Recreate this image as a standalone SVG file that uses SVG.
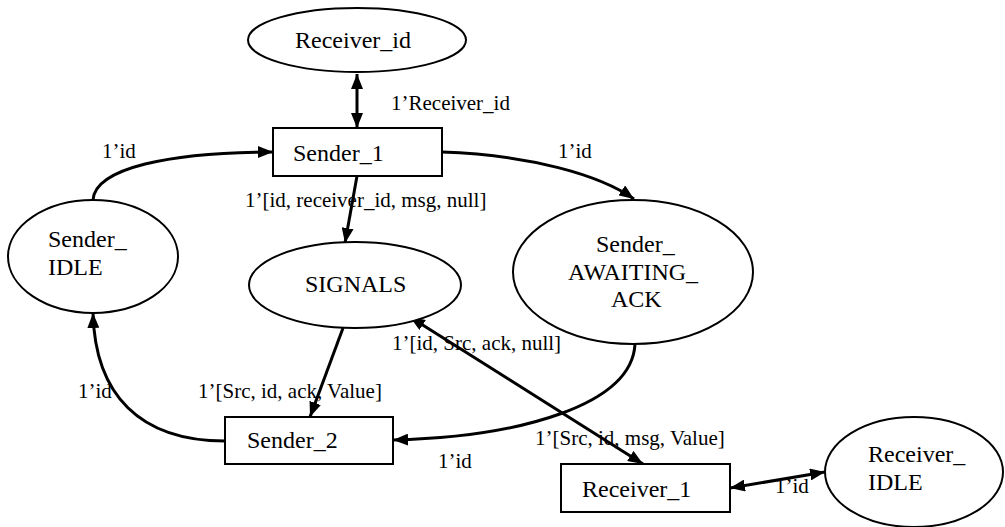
<svg xmlns="http://www.w3.org/2000/svg" width="1005" height="527" viewBox="0 0 1005 527">
  <defs>
    <marker id="arrow" viewBox="0 0 15 12" refX="15" refY="6" markerWidth="15" markerHeight="12" markerUnits="userSpaceOnUse" orient="auto-start-reverse">
      <path d="M0,0 L15,6 L0,12 z" fill="#000"/>
    </marker>
    <style>
      .place { fill: #fff; stroke: #000; stroke-width: 2; }
      .trans { fill: #fff; stroke: #000; stroke-width: 2; }
      .name { font-size: 24px; fill: #000; }
      .lbl { font-size: 21px; fill: #000; }
      .arc { fill: none; stroke: #000; stroke-width: 3; }
    </style>
  </defs>
  <rect width="1005" height="527" fill="#fff"/>

  <g font-family="'Liberation Serif', 'DejaVu Serif', serif">
  <!-- arcs between places and transitions, with their inscriptions -->
  <g id="connectors">
    <path class="arc" d="M357,74 L357,128" marker-start="url(#arrow)" marker-end="url(#arrow)"/>
    <path class="arc" d="M93,200 C95,168 170,152 273,152" marker-end="url(#arrow)"/>
    <path class="arc" d="M442,152 C530,155 600,175 634,199" marker-end="url(#arrow)"/>
    <path class="arc" d="M357,176 L345,243" marker-end="url(#arrow)"/>
    <path class="arc" d="M343,328 L310,417" marker-end="url(#arrow)"/>
    <path class="arc" d="M635,344 C632,405 520,437 393,440" marker-end="url(#arrow)"/>
    <path class="arc" d="M225,441 C140,441 95,395 93,313" marker-end="url(#arrow)"/>
    <path class="arc" d="M410,317 L643,464" marker-start="url(#arrow)" marker-end="url(#arrow)"/>
    <path class="arc" d="M730,488 L825,472" marker-start="url(#arrow)" marker-end="url(#arrow)"/>

    <text class="lbl" x="391" y="110">1’Receiver_id</text>
    <text class="lbl" x="102" y="158">1’id</text>
    <text class="lbl" x="558" y="158">1’id</text>
    <text class="lbl" x="245" y="207">1’[id, receiver_id, msg, null]</text>
    <text class="lbl" x="392" y="350">1’[id, Src, ack, null]</text>
    <text class="lbl" x="198" y="398">1’[Src, id, ack, Value]</text>
    <text class="lbl" x="78" y="398">1’id</text>
    <text class="lbl" x="438" y="468">1’id</text>
    <text class="lbl" x="535" y="445">1’[Src, id, msg, Value]</text>
    <text class="lbl" x="775" y="493">1’id</text>
  </g>

  <g id="receiver_id">
    <ellipse class="place" cx="357" cy="40" rx="109" ry="32"/>
    <text class="name" x="295" y="48">Receiver_id</text>
  </g>

  <g id="sender_1">
    <rect class="trans" x="273" y="128" width="169" height="48"/>
    <text class="name" x="293" y="161">Sender_1</text>
  </g>

  <g id="sender_idle">
    <ellipse class="place" cx="93" cy="256.5" rx="85" ry="56.5"/>
    <text class="name" x="48" y="247">Sender_</text>
    <text class="name" x="48" y="275">IDLE</text>
  </g>

  <g id="signals">
    <ellipse class="place" cx="355" cy="285" rx="106" ry="43"/>
    <text class="name" x="305" y="292">SIGNALS</text>
  </g>

  <g id="sender_awaiting_ack">
    <ellipse class="place" cx="633" cy="272" rx="120" ry="72"/>
    <text class="name" x="596" y="252">Sender_</text>
    <text class="name" x="568" y="280">AWAITING_</text>
    <text class="name" x="611" y="307">ACK</text>
  </g>

  <g id="sender_2">
    <rect class="trans" x="225" y="417" width="168" height="47"/>
    <text class="name" x="247" y="448">Sender_2</text>
  </g>

  <g id="receiver_1">
    <rect class="trans" x="561" y="464" width="169" height="48"/>
    <text class="name" x="582" y="497">Receiver_1</text>
  </g>

  <g id="receiver_idle">
    <ellipse class="place" cx="914" cy="472" rx="89" ry="55"/>
    <text class="name" x="868" y="462">Receiver_</text>
    <text class="name" x="868" y="490">IDLE</text>
  </g>
  </g>
</svg>
